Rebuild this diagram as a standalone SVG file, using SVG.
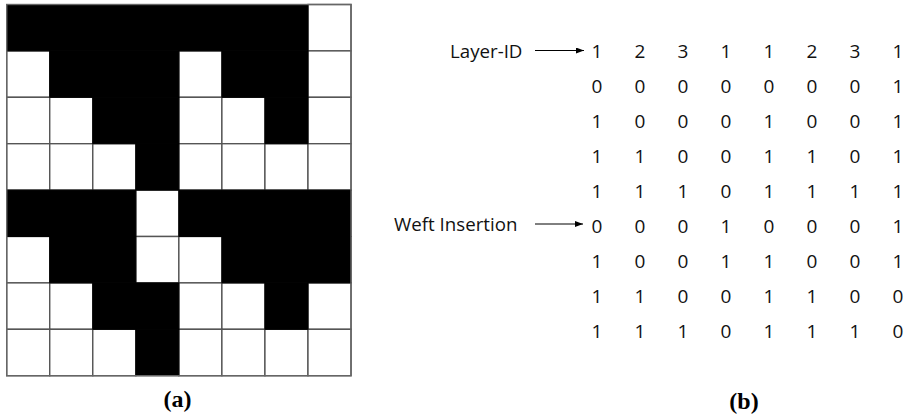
<svg xmlns="http://www.w3.org/2000/svg" width="910" height="417" viewBox="0 0 910 417">
<style>
.w{fill:#fff;stroke:#555;stroke-width:1.4}
.b{fill:#000;stroke:#000;stroke-width:1}
.n{font-family:"Open Sans","Noto Sans",sans-serif;font-size:19px;fill:#111;text-anchor:middle}
.lbl{font-family:"Open Sans","Noto Sans",sans-serif;font-size:18.7px;fill:#111}
.cap{font-family:"Liberation Serif","Times New Roman",serif;font-size:24px;font-weight:bold;fill:#000;text-anchor:middle}
.arr{stroke:#000;stroke-width:1;fill:none;marker-end:url(#ah)}
</style>
<defs>
<marker id="ah" viewBox="0 0 8 6" refX="8" refY="3" markerWidth="8" markerHeight="6" markerUnits="userSpaceOnUse" orient="auto">
<path d="M0,0 L8,3 L0,6 z" fill="#000"/>
</marker>
<rect id="c" width="43.04" height="46.4"/>
</defs>
<rect width="910" height="417" fill="#fff"/>
<g id="grid" transform="translate(6.7,4.5)">
<g id="white-cells">
<use href="#c" class="w" x="301.28" y="0"/>
<use href="#c" class="w" x="0" y="46.4"/><use href="#c" class="w" x="172.16" y="46.4"/><use href="#c" class="w" x="301.28" y="46.4"/>
<use href="#c" class="w" x="0" y="92.8"/><use href="#c" class="w" x="43.04" y="92.8"/><use href="#c" class="w" x="172.16" y="92.8"/><use href="#c" class="w" x="215.2" y="92.8"/><use href="#c" class="w" x="301.28" y="92.8"/>
<use href="#c" class="w" x="0" y="139.2"/><use href="#c" class="w" x="43.04" y="139.2"/><use href="#c" class="w" x="86.08" y="139.2"/><use href="#c" class="w" x="172.16" y="139.2"/><use href="#c" class="w" x="215.2" y="139.2"/><use href="#c" class="w" x="258.24" y="139.2"/><use href="#c" class="w" x="301.28" y="139.2"/>
<use href="#c" class="w" x="129.12" y="185.6"/>
<use href="#c" class="w" x="0" y="232"/><use href="#c" class="w" x="129.12" y="232"/><use href="#c" class="w" x="172.16" y="232"/>
<use href="#c" class="w" x="0" y="278.4"/><use href="#c" class="w" x="43.04" y="278.4"/><use href="#c" class="w" x="172.16" y="278.4"/><use href="#c" class="w" x="215.2" y="278.4"/><use href="#c" class="w" x="301.28" y="278.4"/>
<use href="#c" class="w" x="0" y="324.8"/><use href="#c" class="w" x="43.04" y="324.8"/><use href="#c" class="w" x="86.08" y="324.8"/><use href="#c" class="w" x="172.16" y="324.8"/><use href="#c" class="w" x="215.2" y="324.8"/><use href="#c" class="w" x="258.24" y="324.8"/><use href="#c" class="w" x="301.28" y="324.8"/>
</g>
<g id="black-cells">
<rect class="b" x="0" y="0" width="301.28" height="46.4"/>
<rect class="b" x="43.04" y="46.4" width="129.12" height="46.4"/>
<rect class="b" x="215.2" y="46.4" width="86.08" height="46.4"/>
<rect class="b" x="86.08" y="92.8" width="86.08" height="46.4"/>
<rect class="b" x="258.24" y="92.8" width="43.04" height="46.4"/>
<rect class="b" x="129.12" y="139.2" width="43.04" height="46.4"/>
<rect class="b" x="0" y="185.6" width="129.12" height="46.4"/>
<rect class="b" x="172.16" y="185.6" width="172.16" height="46.4"/>
<rect class="b" x="43.04" y="232" width="86.08" height="46.4"/>
<rect class="b" x="215.2" y="232" width="129.12" height="46.4"/>
<rect class="b" x="86.08" y="278.4" width="86.08" height="46.4"/>
<rect class="b" x="258.24" y="278.4" width="43.04" height="46.4"/>
<rect class="b" x="129.12" y="324.8" width="43.04" height="46.4"/>
</g>
<rect x="0" y="0" width="344.32" height="371.2" fill="none" stroke="#666" stroke-width="1.4"/>
</g>
<g id="label-layer-id"><text class="lbl" x="450" y="58">Layer-ID</text></g>
<g id="label-weft"><text class="lbl" x="394" y="231">Weft Insertion</text></g>
<g id="connectors">
<line class="arr" x1="535" y1="50.5" x2="584" y2="50.5"/>
<line class="arr" x1="535" y1="224" x2="583" y2="224"/>
</g>
<g id="matrix">
<text class="n" y="58"><tspan x="597">1</tspan><tspan x="640">2</tspan><tspan x="683">3</tspan><tspan x="726">1</tspan><tspan x="769">1</tspan><tspan x="812">2</tspan><tspan x="855">3</tspan><tspan x="898">1</tspan></text>
<text class="n" y="93"><tspan x="597">0</tspan><tspan x="640">0</tspan><tspan x="683">0</tspan><tspan x="726">0</tspan><tspan x="769">0</tspan><tspan x="812">0</tspan><tspan x="855">0</tspan><tspan x="898">1</tspan></text>
<text class="n" y="128"><tspan x="597">1</tspan><tspan x="640">0</tspan><tspan x="683">0</tspan><tspan x="726">0</tspan><tspan x="769">1</tspan><tspan x="812">0</tspan><tspan x="855">0</tspan><tspan x="898">1</tspan></text>
<text class="n" y="163"><tspan x="597">1</tspan><tspan x="640">1</tspan><tspan x="683">0</tspan><tspan x="726">0</tspan><tspan x="769">1</tspan><tspan x="812">1</tspan><tspan x="855">0</tspan><tspan x="898">1</tspan></text>
<text class="n" y="198"><tspan x="597">1</tspan><tspan x="640">1</tspan><tspan x="683">1</tspan><tspan x="726">0</tspan><tspan x="769">1</tspan><tspan x="812">1</tspan><tspan x="855">1</tspan><tspan x="898">1</tspan></text>
<text class="n" y="233"><tspan x="597">0</tspan><tspan x="640">0</tspan><tspan x="683">0</tspan><tspan x="726">1</tspan><tspan x="769">0</tspan><tspan x="812">0</tspan><tspan x="855">0</tspan><tspan x="898">1</tspan></text>
<text class="n" y="268"><tspan x="597">1</tspan><tspan x="640">0</tspan><tspan x="683">0</tspan><tspan x="726">1</tspan><tspan x="769">1</tspan><tspan x="812">0</tspan><tspan x="855">0</tspan><tspan x="898">1</tspan></text>
<text class="n" y="303"><tspan x="597">1</tspan><tspan x="640">1</tspan><tspan x="683">0</tspan><tspan x="726">0</tspan><tspan x="769">1</tspan><tspan x="812">1</tspan><tspan x="855">0</tspan><tspan x="898">0</tspan></text>
<text class="n" y="338"><tspan x="597">1</tspan><tspan x="640">1</tspan><tspan x="683">1</tspan><tspan x="726">0</tspan><tspan x="769">1</tspan><tspan x="812">1</tspan><tspan x="855">1</tspan><tspan x="898">0</tspan></text>
</g>
<g id="captions">
<text class="cap" x="177.5" y="407">(a)</text>
<text class="cap" x="744" y="409">(b)</text>
</g>
</svg>
